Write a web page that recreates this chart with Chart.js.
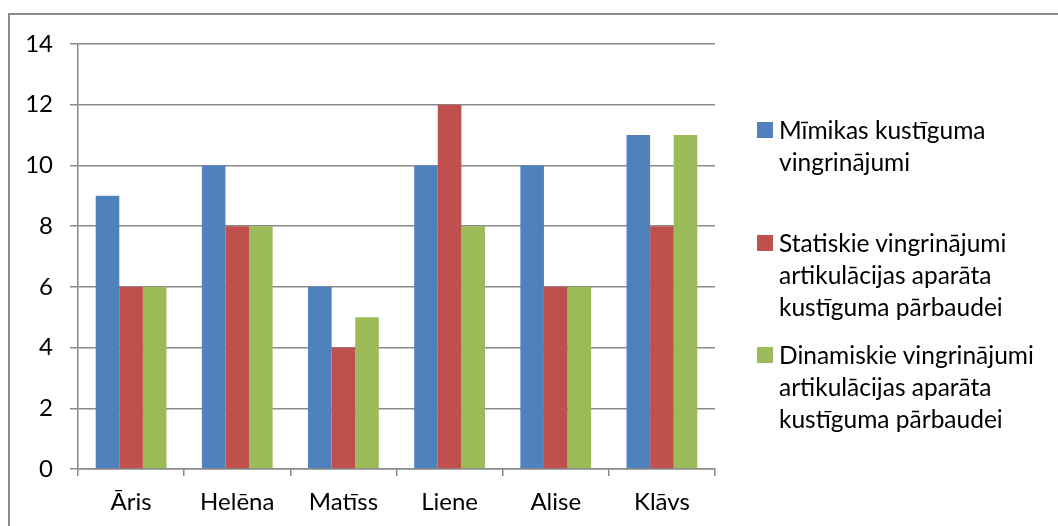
<!DOCTYPE html>
<html>
<head>
<meta charset="utf-8">
<script src="https://cdn.jsdelivr.net/npm/chart.js@4/dist/chart.umd.min.js"></script>
<style>
  body { margin: 0; background: #fff; }
  #wrap { position: relative; width: 1058px; height: 526px; overflow: hidden; }
  #frame { position: absolute; left: 8px; top: 13px; width: 1100px; height: 600px;
           border: 2px solid #8a8a8a; box-sizing: border-box; }
  #myChart { position: absolute; left: 0; top: 0; }
  .item { position: absolute; left: 757px; font-family: Lato, "Open Sans", sans-serif;
          font-size: 24.5px; line-height: 32px; color: #000; }
  .item .box { position: absolute; left: 0; top: 8px; width: 16px; height: 16px; }
  .item .txt { position: absolute; left: 22px; white-space: nowrap; }
</style>
</head>
<body>
<div id="wrap">
  <div id="frame"></div>
  <canvas id="myChart" width="1058" height="526"></canvas>
  <div id="legend"></div>
</div>
<script>
const labels = ['Āris', 'Helēna', 'Matīss', 'Liene', 'Alise', 'Klāvs']

const mimikas = [9, 10, 6, 10, 10, 11]
const statiskie = [6, 8, 4, 12, 6, 8]
const dinamiskie = [6, 8, 5, 8, 6, 11]

const legendLines = [
  ['Mīmikas kustīguma', 'vingrinājumi'],
  ['Statiskie vingrinājumi', 'artikulācijas aparāta', 'kustīguma pārbaudei'],
  ['Dinamiskie vingrinājumi', 'artikulācijas aparāta', 'kustīguma pārbaudei']
]
const colors = ['#4F81BD', '#C0504D', '#9BBB59']
const legendTops = [114, 227, 339]

const FONT = "Lato, 'Open Sans', sans-serif"
const gridColor = '#8a8a8a'

const ctx = document.getElementById('myChart').getContext('2d')

const data = {
  labels,
  datasets: [mimikas, statiskie, dinamiskie].map((vals, i) => ({
    label: legendLines[i].join(' '),
    data: vals,
    backgroundColor: colors[i],
    borderWidth: 0,
    categoryPercentage: 3 / 4.5,
    barPercentage: 1
  }))
}

const config = {
  type: 'bar',
  data,
  options: {
    responsive: false,
    animation: false,
    layout: { padding: { left: 0, top: 44, right: 343, bottom: 0 } },
    plugins: {
      legend: { display: false },
      tooltip: { enabled: false }
    },
    scales: {
      x: {
        afterFit: (scale) => { scale.height = 526 - 469 },
        grid: { drawOnChartArea: false, drawTicks: true, tickLength: 7, color: gridColor, lineWidth: 1.5, offset: true },
        border: { color: gridColor, width: 1.5 },
        ticks: { color: '#000', font: { family: FONT, size: 24 }, padding: 12 }
      },
      y: {
        min: 0,
        max: 14,
        afterFit: (scale) => { scale.width = 78 },
        grid: { color: gridColor, lineWidth: 1.5, tickLength: 8 },
        border: { color: gridColor, width: 1.5 },
        ticks: { stepSize: 2, color: '#000', font: { family: FONT, size: 24 }, padding: 17 }
      }
    }
  }
}

const myChart = new Chart(ctx, config)

// legenda ar vairākrindu tekstu
const legendEl = document.getElementById('legend')
legendLines.forEach((lines, i) => {
  const item = document.createElement('div')
  item.className = 'item'
  item.style.top = legendTops[i] + 'px'
  item.innerHTML = '<div class="box" style="background:' + colors[i] + '"></div>' +
    '<div class="txt">' + lines.join('<br>') + '</div>'
  legendEl.appendChild(item)
})
</script>
</body>
</html>
